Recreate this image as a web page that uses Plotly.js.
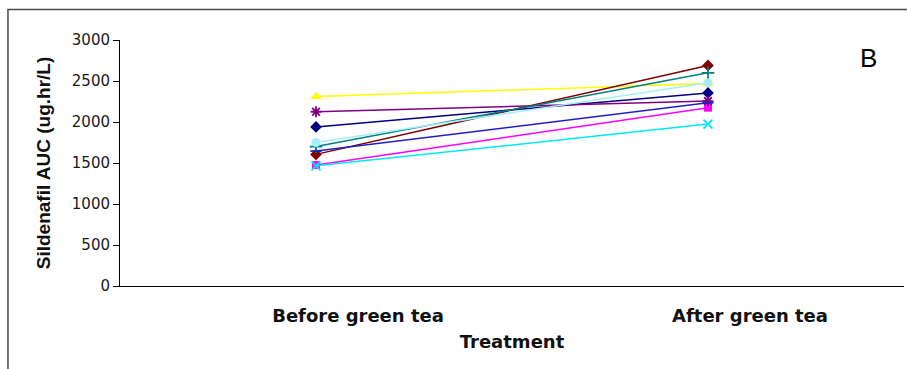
<!DOCTYPE html>
<html>
<head>
<meta charset="utf-8">
<script src="https://cdn.plot.ly/plotly-3.0.1.min.js"></script>
<style>
  html, body { margin: 0; padding: 0; background: #ffffff; }
  #chart { width: 907px; height: 369px; }
</style>
</head>
<body>
<div id="chart"></div>
<script>
// Sildenafil AUC per subject, before and after green tea
const treatments = ["Before green tea", "After green tea"];

const subject1 = [1940, 2355];
const subject2 = [1475, 2175];
const subject3 = [2310, 2470];
const subject4 = [1465, 1975];
const subject5 = [2125, 2255];
const subject6 = [1605, 2690];
const subject7 = [1700, 2600];
const subject8 = [1645, 2235];
const subject9 = [1750, 2480];

const yTickValues = [0, 500, 1000, 1500, 2000, 2500, 3000];

// per-subject line colour and marker style
const styles = [
  { data: subject1, color: "#000080", symbol: "diamond", size: 9, open: false },
  { data: subject2, color: "#ff00ff", symbol: "square", size: 8, open: false },
  { data: subject3, color: "#ffff00", symbol: "triangle-up", size: 10, open: false },
  { data: subject4, color: "#00e8f0", symbol: "x-thin-open", size: 9, open: true },
  { data: subject5, color: "#800080", symbol: "asterisk-open", size: 9, open: true },
  { data: subject6, color: "#800000", symbol: "diamond", size: 9, open: false },
  { data: subject7, color: "#008080", symbol: "cross-thin-open", size: 9, open: true },
  { data: subject8, color: "#1f1fc8", symbol: "line-ew-open", size: 8, open: true },
  { data: subject9, color: "#a6eef6", symbol: "circle", size: 9, open: false }
];

const traces = styles.map((s, i) => ({
  type: "scatter",
  mode: "lines+markers",
  name: "Subject " + (i + 1),
  x: treatments,
  y: s.data,
  line: { color: s.color, width: 1.5 },
  marker: s.open
    ? { symbol: s.symbol, size: s.size, color: s.color, line: { color: s.color, width: 1.8 } }
    : { symbol: s.symbol, size: s.size, color: s.color, line: { width: 0 } },
  showlegend: false,
  cliponaxis: false
}));

const layout = {
  width: 907,
  height: 369,
  margin: { l: 120, r: 3, t: 40, b: 83 },
  paper_bgcolor: "#ffffff",
  plot_bgcolor: "#ffffff",
  showlegend: false,
  xaxis: {
    type: "category",
    categoryarray: treatments,
    range: [-0.5, 1.5],
    showline: true,
    linecolor: "#000000",
    linewidth: 1,
    showgrid: false,
    zeroline: false,
    ticks: "",
    ticklabelshift: 42,
    ticklabelstandoff: 13,
    tickfont: { family: "DejaVu Sans", size: 18, color: "#111111", weight: "bold" },
    title: {
      text: "Treatment",
      standoff: 10,
      font: { family: "DejaVu Sans", size: 18, color: "#111111", weight: "bold" }
    },
    automargin: false
  },
  yaxis: {
    range: [0, 3000],
    tickvals: yTickValues,
    showline: true,
    linecolor: "#000000",
    linewidth: 1,
    showgrid: false,
    zeroline: false,
    ticks: "outside",
    ticklen: 6,
    tickcolor: "#000000",
    tickfont: { family: "DejaVu Sans", size: 15, color: "#1a1a1a" },
    title: {
      text: "Sildenafil AUC (ug.hr/L)",
      standoff: 16,
      font: { family: "Liberation Sans", size: 19, color: "#111111", weight: "bold" }
    },
    automargin: false
  },
  annotations: [
    {
      text: "B",
      xref: "paper", yref: "paper",
      x: 0.955, y: 0.927,
      xanchor: "center", yanchor: "middle",
      showarrow: false,
      font: { family: "Liberation Sans", size: 26, color: "#000000" }
    }
  ],
  shapes: [
    // outer chart frame (top and left edges visible)
    {
      type: "rect", xref: "paper", yref: "paper",
      x0: -0.1429, x1: 1.2, y0: -0.6, y1: 1.124,
      line: { color: "#4a4a4a", width: 1.5 },
      fillcolor: "rgba(0,0,0,0)",
      layer: "below"
    }
  ]
};

Plotly.newPlot("chart", traces, layout, { staticPlot: true, displayModeBar: false });
</script>
</body>
</html>
